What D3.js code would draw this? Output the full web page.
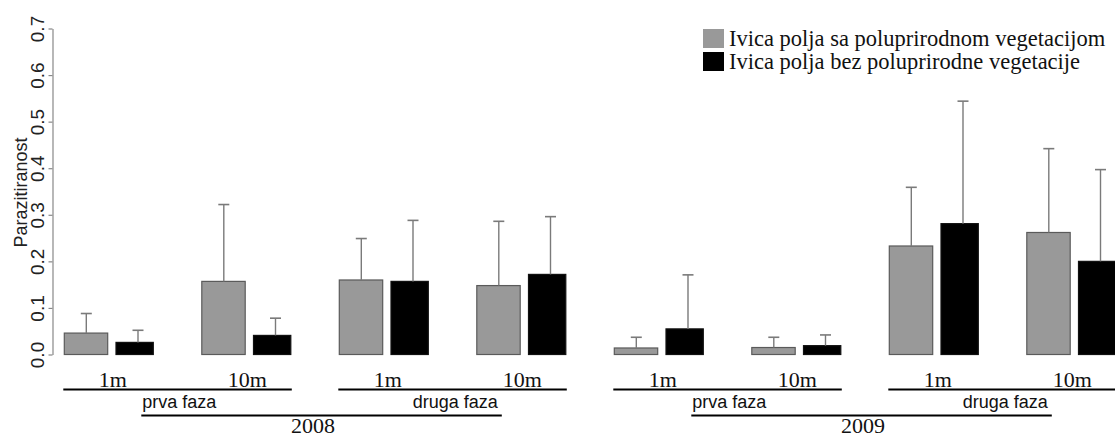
<!DOCTYPE html>
<html>
<head>
<meta charset="utf-8">
<script src="https://cdn.jsdelivr.net/npm/d3@7"></script>
<style>
  html, body { margin: 0; padding: 0; background: #fff; }
  svg { display: block; }
</style>
</head>
<body>
<svg id="chart" width="1115" height="438"></svg>
<script>
// Groups: year × phase × distance from the field edge
const categories = ["2008-prva-1m", "2008-prva-10m", "2008-druga-1m", "2008-druga-10m",
                    "2009-prva-1m", "2009-prva-10m", "2009-druga-1m", "2009-druga-10m"];
const distanceLabels = ["1m", "10m", "1m", "10m", "1m", "10m", "1m", "10m"];
const phaseLabels = ["prva faza", "druga faza"];
const yearLabels = ["2008", "2009"];

const seriesNames = ["Ivica polja sa poluprirodnom vegetacijom",
                     "Ivica polja bez poluprirodne vegetacije"];

// Mean parasitism and the upper error (SD) for each edge type
const meanWith    = [0.046, 0.157, 0.160, 0.148, 0.014, 0.015, 0.233, 0.262];
const sdWith      = [0.042, 0.165, 0.089, 0.138, 0.023, 0.022, 0.126, 0.180];
const meanWithout = [0.026, 0.041, 0.157, 0.172, 0.055, 0.019, 0.281, 0.200];
const sdWithout   = [0.026, 0.037, 0.131, 0.124, 0.116, 0.023, 0.263, 0.197];

const yTicks = [0, 0.1, 0.2, 0.3, 0.4, 0.5, 0.6, 0.7];
const yTitle = "Parazitiranost";

// Styling
const fills   = ["#999999", "#000000"];
const strokes = ["#5a5a5a", "#111111"];
const barW    = [43.4, 37.3];
const errColor = "#7a7a7a";
const sansFont = "Arial, 'Liberation Sans', sans-serif";
const serifFont = "'Times New Roman', 'Liberation Serif', serif";

const svg = d3.select("#chart");

const y = d3.scaleLinear().domain([0, 0.7]).range([354.5, 28.5]);
const x0 = d3.scaleBand().domain(categories).range([64.3, 64.3 + 137.5 * categories.length]);
const x1 = d3.scaleBand().domain([0, 1]).range([0, 103.4]);

const rows = categories.map((c, i) => ({
  id: c, i,
  bars: [
    { s: 0, mean: meanWith[i], sd: sdWith[i] },
    { s: 1, mean: meanWithout[i], sd: sdWithout[i] }
  ]
}));

// Y axis
const yAxis = svg.append("g")
  .attr("transform", "translate(52.5,0)")
  .call(d3.axisLeft(y).tickValues(yTicks).tickSize(4).tickSizeOuter(0)
        .tickFormat(d3.format(".1f")));
yAxis.select(".domain").attr("stroke", "#888").attr("stroke-width", 1.2);
yAxis.selectAll(".tick line").attr("stroke", "#888").attr("stroke-width", 1.2);
yAxis.selectAll(".tick text")
  .attr("transform", "rotate(-90)")
  .attr("x", 0).attr("y", -9).attr("dy", null)
  .attr("text-anchor", "middle")
  .attr("fill", "#222")
  .style("font-family", sansFont)
  .style("font-size", "19px");

svg.append("text")
  .attr("transform", `translate(26.5,${(y(0) + y(0.7)) / 2 + 1}) rotate(-90)`)
  .attr("text-anchor", "middle")
  .attr("fill", "#222")
  .style("font-family", sansFont)
  .style("font-size", "18px")
  .text(yTitle);

// Bars and error bars
const grp = svg.append("g").selectAll("g.grp").data(rows).join("g")
  .attr("class", "grp")
  .attr("transform", d => `translate(${x0(d.id)},0)`);

grp.selectAll("rect").data(d => d.bars).join("rect")
  .attr("x", d => x1(d.s))
  .attr("y", d => y(d.mean))
  .attr("width", d => barW[d.s])
  .attr("height", d => y(0) - y(d.mean))
  .attr("fill", d => fills[d.s])
  .attr("stroke", d => strokes[d.s])
  .attr("stroke-width", 1.2);

const err = grp.selectAll("g.err").data(d => d.bars).join("g").attr("class", "err");
err.append("line")
  .attr("x1", d => x1(d.s) + 22).attr("x2", d => x1(d.s) + 22)
  .attr("y1", d => y(d.mean)).attr("y2", d => y(d.mean + d.sd))
  .attr("stroke", errColor).attr("stroke-width", 1.4);
err.append("line")
  .attr("x1", d => x1(d.s) + 22 - 5.5).attr("x2", d => x1(d.s) + 22 + 5.5)
  .attr("y1", d => y(d.mean + d.sd)).attr("y2", d => y(d.mean + d.sd))
  .attr("stroke", errColor).attr("stroke-width", 1.6);

// Distance labels under each group
const labelShift = { "1m": 4, "10m": 1 };
svg.append("g").selectAll("text").data(rows).join("text")
  .attr("x", d => x0(d.id) + 44.5 + labelShift[distanceLabels[d.i]])
  .attr("y", 387)
  .attr("text-anchor", "middle")
  .attr("fill", "#111")
  .style("font-family", serifFont)
  .style("font-size", "22px")
  .text(d => distanceLabels[d.i]);

// Phase brackets (pairs of groups)
const groupEnd = id => x0(id) + x1(1) + barW[1];
const phaseSpans = d3.range(0, categories.length, 2).map(k => ({
  a: categories[k], b: categories[k + 1], phase: phaseLabels[(k / 2) % 2]
}));
svg.append("g").selectAll("line").data(phaseSpans).join("line")
  .attr("x1", d => x0(d.a) - 1).attr("x2", d => groupEnd(d.b) + 1)
  .attr("y1", 389.5).attr("y2", 389.5)
  .attr("stroke", "#000").attr("stroke-width", 2);

// Year brackets with phase names
const yearSpans = yearLabels.map((yr, k) => {
  const g = categories.slice(k * 4, k * 4 + 4);
  return { yr, g, x1: x0(g[0]) + 77, x2: x0(g[3]) + 25 };
});
const yr = svg.append("g").selectAll("g").data(yearSpans).join("g");
yr.append("line")
  .attr("x1", d => d.x1).attr("x2", d => d.x2)
  .attr("y1", 415.5).attr("y2", 415.5)
  .attr("stroke", "#000").attr("stroke-width", 2);
yr.append("text")
  .attr("x", d => d.x1 + 1).attr("y", 408)
  .attr("fill", "#111")
  .style("font-family", sansFont).style("font-size", "18px")
  .text(phaseLabels[0]);
yr.append("text")
  .attr("x", d => d.x2 - 4).attr("y", 408)
  .attr("text-anchor", "end")
  .attr("fill", "#111")
  .style("font-family", sansFont).style("font-size", "18px")
  .text(phaseLabels[1]);
yr.append("text")
  .attr("x", d => (groupEnd(d.g[1]) + x0(d.g[2])) / 2 - 2)
  .attr("y", 433)
  .attr("text-anchor", "middle")
  .attr("fill", "#111")
  .style("font-family", serifFont).style("font-size", "22px")
  .text(d => d.yr);

// Legend
const legend = svg.append("g").attr("transform", "translate(703,29)");
const li = legend.selectAll("g").data(seriesNames).join("g")
  .attr("transform", (d, i) => `translate(0,${i * 23})`);
li.append("rect")
  .attr("width", 21).attr("height", 19)
  .attr("fill", (d, i) => fills[i]);
li.append("text")
  .attr("x", 26).attr("y", 16.5)
  .attr("fill", "#111")
  .style("font-family", serifFont).style("font-size", "22.5px")
  .text(d => d);
</script>
</body>
</html>
